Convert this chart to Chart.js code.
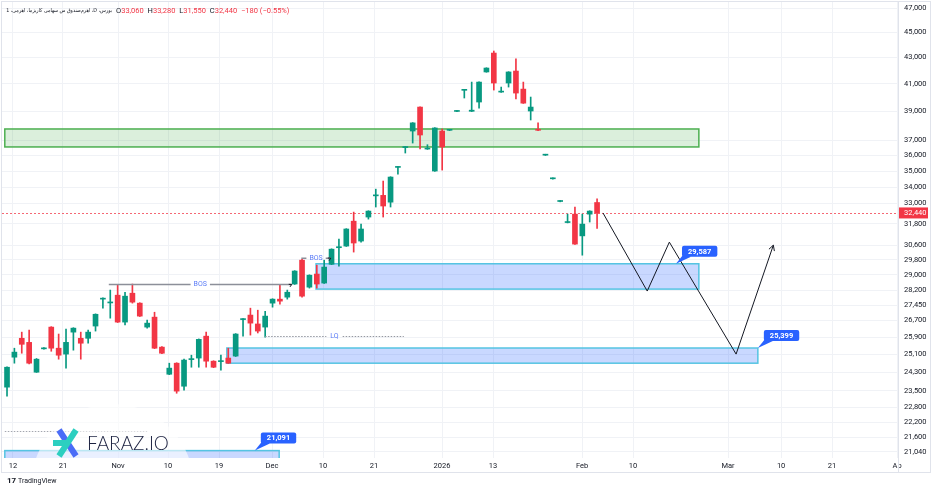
<!DOCTYPE html>
<html>
<head>
<meta charset="utf-8">
<script src="https://cdn.jsdelivr.net/npm/chart.js@4.4.1/dist/chart.umd.min.js"></script>
<style>
  html, body { margin: 0; padding: 0; background: #fff; }
  canvas { display: block; }
</style>
</head>
<body>
<canvas id="chart" width="936" height="492"></canvas>
<script>
// daily candles, index 0 = first visible bar (mid Oct)
const opens  = [23660,24980,25850,25660,24310,25360,26380,25390,25120,26140,25850,25850,26430,27750,27560,27950,26620,28050,27550,26380,
                26860,25440,24220,24710,23700,24870,24940,25950,24800,24780,24940,25030,26740,26960,26530,26380,27550,27750,27850,28520,
                29780,28360,29040,28570,29560,30460,30550,31960,30830,32200,33460,33490,33080,35230,36520,37630,39300,36420,35000,37630,
                37680,38990,40510,39000,39660,41880,43340,40380,41050,41950,40600,39020,37720,36020,34510,33120,31880,32370,31120,32370,33060];
const highs  = [24550,25390,26140,26240,24920,25420,26400,26050,26290,26350,26140,26240,27020,27820,28210,28460,28100,28520,27570,26720,
                27100,25460,24710,24730,24890,25070,25820,26140,24820,25070,25390,26070,26790,27300,27200,27150,27770,28460,28210,29220,
                29830,29000,29510,29780,30400,30940,31530,32490,31790,32570,33870,34370,34640,35280,36580,38210,39320,36710,37860,37770,
                37740,39050,40570,41120,41140,42200,43500,40750,41900,42890,41120,40020,38190,36080,34570,33180,32370,32790,32370,32570,33280];
const lows   = [23280,24710,25160,24680,24300,25340,25250,24890,24490,25300,24890,25620,26190,27300,26810,26600,26480,27550,26890,26330,
                25370,25140,24200,23400,23530,24530,24530,24530,24510,24400,24700,25010,25950,26000,26100,25900,27350,27500,27750,28500,
                27850,28310,28310,28550,29540,29460,30530,30220,30770,32080,32790,32200,32790,34800,36160,36820,36430,36400,34980,35060,
                37660,38970,39950,38980,39230,41860,40530,40360,40750,39880,39560,38390,37660,36000,34490,33100,31860,30640,30050,31910,31550];
const closes = [24530,25210,25570,24710,24890,25400,25390,25070,25660,26330,25620,26140,27000,27800,27600,26620,27900,27600,26910,26570,
                25390,25160,24490,23490,24850,24900,25800,24800,24530,24810,24710,26050,26770,26570,26190,26910,27750,27650,28100,29200,
                27900,28980,28520,29410,30380,30500,31510,30720,31510,32550,33500,32850,34620,35260,36560,38190,37360,36460,37840,36560,
                37720,39030,40550,39080,41120,42180,41050,40420,41880,40310,39580,39300,37680,36060,34550,33160,31920,30660,31790,32550,32440];

const lastClose = 32440;

// axis ticks
const priceTicks = [21040,21600,22200,22800,23500,24300,25100,25900,26700,27450,28200,29000,29800,30600,31800,33000,34000,35000,36000,37000,39000,41000,43000,45000,47000];
const timeTickPos = [0.81,7.59,15.05,21.83,28.75,35.93,42.85,49.76,58.98,65.9,77.97,84.88,97.76,104.95,111.86,120.68];
const timeTickLabels = ['12','21','Nov','10','19','Dec','10','21','2026','13','Feb','10','Mar','10','21','Ap'];

// drawn zones (bar index range, price range)
const zoneKind = ['supply','demand','demand','demand'];
const zoneX0   = [-0.3, 41.9, 29.8, -0.3];
const zoneX1   = [93.8, 93.8, 101.8, 36.9];
const zoneHigh = [37770, 29587, 25399, 21091];
const zoneLow  = [36560, 28260, 24710, 20300];

// price callouts
const calloutX = [90.7, 101.8, 33.6];
const calloutValue = [29587, 25399, 21091];

// structure lines
const bosLevel = [28500, 29890];
const bosX0 = [13.8, 39.9];
const bosX1 = [38.6, 43.9];
const lqLevel = 25950, lqX0 = 35.0, lqX1 = 53.8;
const dotLevel = 21860, dotX0 = -0.3, dotX1 = 19.0;

// projected path
const pathX = [80.8, 86.8, 89.8, 98.85, 103.9];
const pathY = [32440, 28160, 30770, 25120, 30600];

const GREEN = '#089981', RED = '#f23645';
const FONT = 'Roboto, "Noto Sans", sans-serif';
const TITLE = 'بورس، D، اهرم‌صندوق س سهامی کاریزما، اهرمی، 1';

const idx = opens.map((_, i) => i);
const colors = idx.map(i => closes[i] >= opens[i] ? GREEN : RED);

function roundRect(ctx, x, y, w, h, r) {
  ctx.beginPath();
  ctx.moveTo(x + r, y);
  ctx.arcTo(x + w, y, x + w, y + h, r);
  ctx.arcTo(x + w, y + h, x, y + h, r);
  ctx.arcTo(x, y + h, x, y, r);
  ctx.arcTo(x, y, x + w, y, r);
  ctx.closePath();
}

function arrowHead(ctx, x0, y0, x1, y1, len) {
  const a = Math.atan2(y1 - y0, x1 - x0);
  ctx.beginPath();
  ctx.moveTo(x1 - len * Math.cos(a - 0.5), y1 - len * Math.sin(a - 0.5));
  ctx.lineTo(x1, y1);
  ctx.lineTo(x1 - len * Math.cos(a + 0.5), y1 - len * Math.sin(a + 0.5));
  ctx.stroke();
}

const overlay = {
  id: 'overlay',
  beforeDatasetsDraw(chart) {
    const { ctx, chartArea: a, scales: { x, y } } = chart;
    ctx.save();
    ctx.beginPath();
    ctx.rect(a.left, a.top, a.right - a.left, a.bottom - a.top);
    ctx.clip();

    zoneHigh.forEach((hi, k) => {
      const x0 = x.getPixelForValue(zoneX0[k]), x1 = x.getPixelForValue(zoneX1[k]);
      const y0 = y.getPixelForValue(hi), y1 = y.getPixelForValue(zoneLow[k]);
      const supply = zoneKind[k] === 'supply';
      ctx.fillStyle = supply ? 'rgba(76,175,80,0.2)' : 'rgba(41,98,255,0.25)';
      ctx.fillRect(x0, y0, x1 - x0, y1 - y0);
      ctx.strokeStyle = supply ? '#4caf50' : '#55c4e2';
      ctx.lineWidth = 1.5;
      ctx.strokeRect(x0, y0, x1 - x0, y1 - y0);
    });

    // last price line (dotted, drawn as small dashes)
    const py = Math.round(y.getPixelForValue(lastClose));
    ctx.fillStyle = 'rgba(242,54,69,0.75)';
    for (let px = a.left; px < a.right; px += 4) ctx.fillRect(px, py, 2, 1);
    ctx.restore();
  },
  afterDatasetsDraw(chart) {
    const { ctx, chartArea: a, scales: { x, y } } = chart;
    ctx.save();
    ctx.beginPath();
    ctx.rect(a.left, a.top, a.right - a.left, a.bottom - a.top);
    ctx.clip();

    // BOS lines
    ctx.font = '7px ' + FONT;
    ctx.textBaseline = 'middle';
    ctx.textAlign = 'center';
    bosLevel.forEach((lv, k) => {
      const x0 = x.getPixelForValue(bosX0[k]), x1 = x.getPixelForValue(bosX1[k]);
      const ly = y.getPixelForValue(lv);
      const mid = (x0 + x1) / 2, tw = ctx.measureText('BOS').width;
      ctx.strokeStyle = '#8c8f99';
      ctx.lineWidth = 1.5;
      ctx.beginPath();
      ctx.moveTo(x0, ly); ctx.lineTo(mid - tw / 2 - 3, ly);
      ctx.moveTo(mid + tw / 2 + 3, ly); ctx.lineTo(x1, ly);
      ctx.stroke();
      ctx.lineWidth = 1;
      ctx.strokeStyle = '#131722';
      arrowHead(ctx, x1 - 6, ly + 3, x1, ly, 3);
      ctx.fillStyle = '#5b7cf7';
      ctx.fillText('BOS', mid, ly);
    });

    // LQ line
    {
      const x0 = x.getPixelForValue(lqX0), x1 = x.getPixelForValue(lqX1);
      const ly = Math.round(y.getPixelForValue(lqLevel)) + 0.5;
      const mid = (x0 + x1) / 2, tw = ctx.measureText('LQ').width;
      ctx.strokeStyle = '#9598a1';
      ctx.lineWidth = 1;
      ctx.setLineDash([1.5, 1.5]);
      ctx.beginPath();
      ctx.moveTo(x0, ly); ctx.lineTo(mid - tw / 2 - 4, ly);
      ctx.moveTo(mid + tw / 2 + 4, ly); ctx.lineTo(x1, ly);
      ctx.stroke();
      ctx.setLineDash([]);
      ctx.fillStyle = '#5b7cf7';
      ctx.fillText('LQ', mid, ly);
    }

    // small dotted line bottom-left
    {
      const x0 = x.getPixelForValue(dotX0), x1 = x.getPixelForValue(dotX1);
      const ly = Math.round(y.getPixelForValue(dotLevel)) + 0.5;
      ctx.strokeStyle = '#a3a6af';
      ctx.setLineDash([1.5, 1.5]);
      ctx.beginPath(); ctx.moveTo(x0, ly); ctx.lineTo(x1, ly); ctx.stroke();
      ctx.setLineDash([]);
    }

    // arrow at path end
    {
      const n = pathX.length;
      ctx.strokeStyle = '#131722';
      ctx.lineWidth = 1;
      arrowHead(ctx, x.getPixelForValue(pathX[n - 2]), y.getPixelForValue(pathY[n - 2]),
                x.getPixelForValue(pathX[n - 1]), y.getPixelForValue(pathY[n - 1]), 6);
    }

    // watermark logo
    ctx.fillStyle = 'rgba(255,255,255,0.6)';
    ctx.beginPath(); ctx.arc(112.5, 485, 81, 0, Math.PI * 2); ctx.fill();
    ctx.lineCap = 'butt';
    ctx.lineWidth = 6;
    ctx.strokeStyle = '#4a6cf7';
    ctx.beginPath(); ctx.moveTo(59, 430); ctx.lineTo(76, 456); ctx.stroke();
    ctx.strokeStyle = '#2ccfc0';
    ctx.beginPath(); ctx.moveTo(76, 430); ctx.lineTo(59, 456); ctx.stroke();
    ctx.beginPath(); ctx.moveTo(53, 443); ctx.lineTo(68, 443); ctx.stroke();
    ctx.fillStyle = '#1b2140';
    ctx.font = '300 19px Lato, "Open Sans", sans-serif';
    ctx.textAlign = 'left';
    ctx.textBaseline = 'middle';
    ctx.fillText('FARAZ.IO', 87, 444);

    // callouts
    ctx.font = 'bold 7.5px ' + FONT;
    calloutValue.forEach((v, k) => {
      const tx = x.getPixelForValue(calloutX[k]), ty = y.getPixelForValue(v);
      const label = v.toLocaleString('en-US');
      const bw = ctx.measureText(label).width + 12, bh = 11;
      const bx = tx + 6, by = ty - 7 - bh;
      ctx.fillStyle = '#2962ff';
      ctx.beginPath();
      ctx.moveTo(tx, ty); ctx.lineTo(bx + 2, by + bh - 3); ctx.lineTo(bx + 9, by + bh); ctx.closePath(); ctx.fill();
      roundRect(ctx, bx, by, bw, bh, 2); ctx.fill();
      ctx.fillStyle = '#ffffff';
      ctx.textAlign = 'center';
      ctx.fillText(label, bx + bw / 2, by + bh / 2 + 0.5);
    });
    ctx.restore();
  },
  afterDraw(chart) {
    const { ctx, chartArea: a, scales: { y } } = chart;
    ctx.save();
    // frame
    ctx.strokeStyle = '#e0e3eb';
    ctx.lineWidth = 1;
    ctx.strokeRect(1.5, 1.5, 929, 471);
    ctx.beginPath(); ctx.moveTo(a.right + 0.5, a.top); ctx.lineTo(a.right + 0.5, 472); ctx.stroke();

    // last price label on axis
    const py = y.getPixelForValue(lastClose);
    ctx.fillStyle = RED;
    ctx.fillRect(a.right + 1, py - 5.5, 29, 11);
    ctx.fillStyle = '#fff';
    ctx.font = '7.5px ' + FONT;
    ctx.textAlign = 'left';
    ctx.textBaseline = 'middle';
    ctx.fillText(lastClose.toLocaleString('en-US'), a.right + 6, py + 0.5);

    // legend line: shrink the title font until it fits its slot
    const fam = '"DejaVu Sans Condensed", "DejaVu Sans", sans-serif';
    let fs = 7.5;
    ctx.font = fs + 'px ' + fam;
    const w = ctx.measureText(TITLE).width;
    if (w > 106) { fs = fs * 106 / w; ctx.font = fs.toFixed(2) + 'px ' + fam; }
    ctx.direction = 'rtl';
    ctx.textAlign = 'right';
    ctx.fillStyle = '#131722';
    ctx.fillText(TITLE, 112, 11);
    ctx.direction = 'ltr';
    ctx.textAlign = 'left';
    ctx.font = '7.5px ' + FONT;
    const parts = [['O', '#131722'], ['33,060 ', RED], ['H', '#131722'], ['33,280 ', RED], ['L', '#131722'],
                   ['31,550 ', RED], ['C', '#131722'], ['32,440 ', RED], ['\u2212180 (\u22120.55%)', RED]];
    let tx = 116;
    parts.forEach(([t, c]) => { ctx.fillStyle = c; ctx.fillText(t, tx, 11); tx += ctx.measureText(t).width + (t.endsWith(' ') ? 2 : 0); });

    // footer
    ctx.fillStyle = '#131722';
    ctx.font = 'bold 8px ' + FONT;
    ctx.fillText('17', 7, 481);
    ctx.font = '7px ' + FONT;
    ctx.fillText('TradingView', 18, 481);
    ctx.restore();
  }
};

new Chart(document.getElementById('chart'), {
  data: {
    datasets: [
      {
        type: 'bar',
        data: idx.map(i => ({ x: i, y: [lows[i], highs[i]] })),
        backgroundColor: colors,
        barThickness: 1,
        grouped: false,
        order: 3
      },
      {
        type: 'bar',
        data: idx.map(i => ({ x: i, y: [Math.min(opens[i], closes[i]), Math.max(opens[i], closes[i])] })),
        backgroundColor: colors,
        barThickness: 5,
        minBarLength: 1,
        grouped: false,
        order: 2
      },
      {
        type: 'line',
        data: pathX.map((v, k) => ({ x: v, y: pathY[k] })),
        borderColor: '#131722',
        borderWidth: 1,
        pointRadius: 0,
        tension: 0,
        order: 1
      }
    ]
  },
  options: {
    responsive: false,
    animation: false,
    devicePixelRatio: 1,
    layout: { padding: { left: 2, top: 2, right: 6, bottom: 20 } },
    plugins: { legend: { display: false }, tooltip: { enabled: false } },
    scales: {
      x: {
        type: 'linear',
        offset: false,
        min: -0.68,
        max: 120.8,
        afterBuildTicks: s => { s.ticks = timeTickPos.map(v => ({ value: v })); },
        afterFit: s => { s.height = 14; s.paddingLeft = 0; s.paddingRight = 0; },
        ticks: {
          callback: (v, i) => timeTickLabels[i],
          autoSkip: false,
          maxRotation: 0,
          padding: 4,
          color: '#131722',
          font: { size: 7.5, family: FONT }
        },
        grid: { color: '#f0f2f6', drawTicks: false, offset: false },
        border: { display: false }
      },
      y: {
        type: 'logarithmic',
        position: 'right',
        min: 20810,
        max: 47540,
        afterBuildTicks: s => { s.ticks = priceTicks.map(v => ({ value: v })); },
        afterFit: s => { s.width = 32; s.paddingTop = 0; s.paddingBottom = 0; },
        ticks: {
          callback: v => v.toLocaleString('en-US'),
          autoSkip: false,
          padding: 6,
          color: '#131722',
          font: { size: 7.5, family: FONT }
        },
        grid: { color: '#f0f2f6', drawTicks: false },
        border: { display: false }
      }
    }
  },
  plugins: [overlay]
});
</script>
</body>
</html>
